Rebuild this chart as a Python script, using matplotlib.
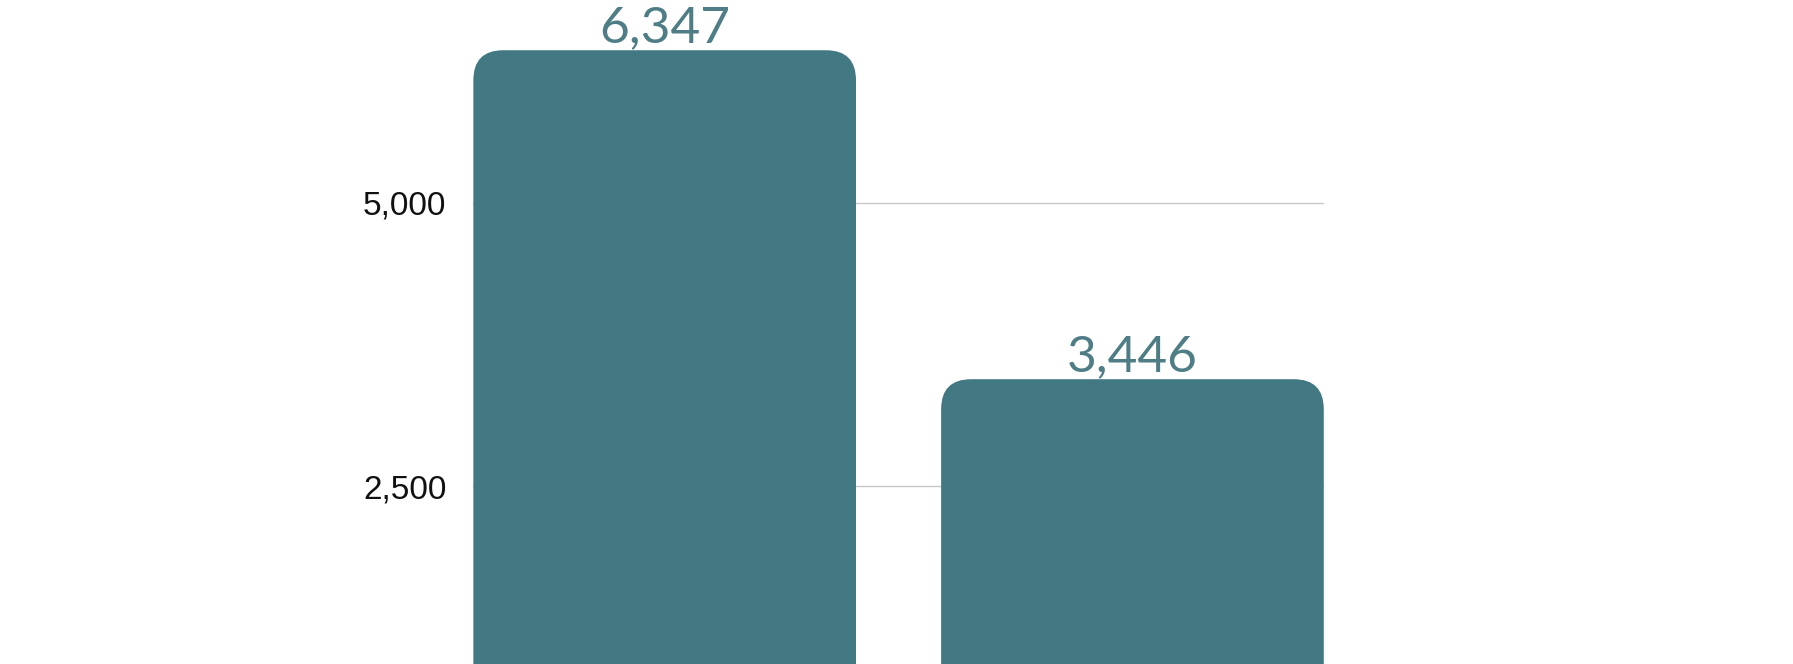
import matplotlib.pyplot as plt
from matplotlib.patches import FancyBboxPatch

# valeurs
categories = ['A', 'B']
valeurs = [6347, 3446]
ticks = [2500, 5000]
tick_labels = ['2,500', '5,000']

bar_color = '#417882'
label_color = '#4f7d86'

fig = plt.figure(figsize=(17.93, 6.64), dpi=100)
# l'axe descend sous le bas de l'image (zero hors cadre)
ax = fig.add_axes([0.264, -0.1596, 0.4743, 1.1596])

x = range(len(categories))
largeur = 0.818
bars = ax.bar(x, valeurs, width=largeur, color=bar_color, zorder=2)
ax.set_xlim(-largeur / 2, 1 + largeur / 2)
ax.set_ylim(0, 6790)

ax.set_yticks(ticks)
ax.set_yticklabels(tick_labels, fontsize=24, family='Liberation Sans', color='#111111')
ax.tick_params(axis='y', length=0, pad=19.5)
ax.set_xticks([])
ax.grid(axis='y', color='#c8c8c8', linewidth=1, zorder=0)
for s in ax.spines.values():
    s.set_visible(False)

# coins arrondis : on remplace chaque barre par une boite arrondie
fig.canvas.draw()
(x0, y0), (x1, y1) = ax.transData.transform([(0, 0), (1, 1)])
aspect = (1.0 / (y1 - y0)) / (1.0 / (x1 - x0))
rayon = 30.0 / (x1 - x0)
for b in bars:
    b.set_visible(False)
    p = FancyBboxPatch((b.get_x(), b.get_y() - 1000), b.get_width(), b.get_height() + 1000,
                       boxstyle=f'round,pad=0,rounding_size={rayon}',
                       mutation_aspect=aspect, facecolor=bar_color, edgecolor='none',
                       zorder=2, clip_on=False)
    ax.add_patch(p)
    ax.annotate(f'{int(b.get_height()):,}', (b.get_x() + b.get_width() / 2, b.get_height()),
                xytext=(0, 8), textcoords='offset pixels', ha='center', va='baseline',
                fontsize=37, family='Lato', color=label_color)

fig.savefig('out.png', dpi=100)
